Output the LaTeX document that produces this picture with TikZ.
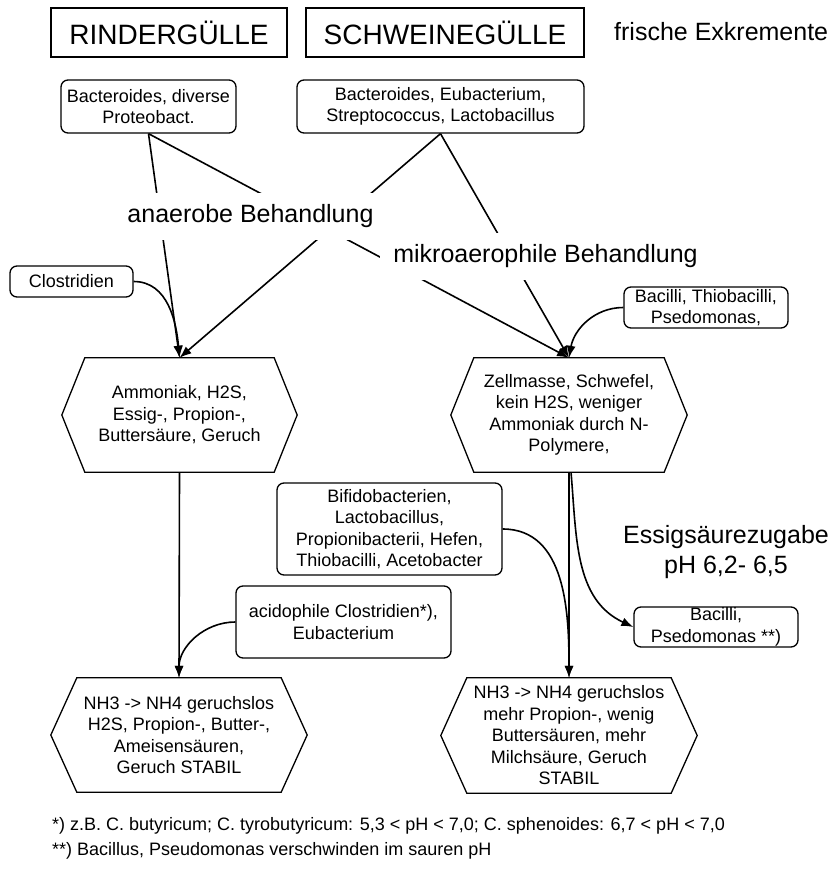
\documentclass[tikz,border=0pt]{standalone}
\usepackage{fontspec}
\setmainfont{Liberation Sans}
\usepackage{tikz}
\usetikzlibrary{arrows.meta}
\tikzset{>={Latex[length=12pt,width=9pt]}}
\tikzstyle{titel}=[draw,line width=1.3pt,minimum height=49pt,inner sep=0pt,font=\fontsize{28}{32}\selectfont]
\tikzstyle{keim}=[draw,rounded corners=7pt,line width=1.3pt,align=center,inner sep=0pt,font=\fontsize{18}{21.5}\selectfont]
\tikzstyle{hexa}=[minimum height=114pt,align=center,inner sep=0pt,font=\fontsize{18}{21.5}\selectfont]
\tikzstyle{behandlung}=[fill=white,inner xsep=13pt,inner ysep=0pt,minimum height=47pt,font=\fontsize{25}{30}\selectfont]
\tikzstyle{pfeil}=[->,line width=1.6pt]
\newcommand{\sechseck}[2]{\draw[line width=1.3pt] (#1.west) -- ([xshift=#2]#1.north west) -- ([xshift=-#2]#1.north east) -- (#1.east) -- ([xshift=-#2]#1.south east) -- ([xshift=#2]#1.south west) -- cycle;}

\begin{document}
\begin{tikzpicture}[x=1pt,y=1pt]
    \useasboundingbox (0,0) rectangle (831,-875);

    \node[titel,minimum width=236pt] (rind) at (169,-32.5) {RINDERGÜLLE};
    \node[titel,minimum width=278pt] (schw) at (445,-32.5) {SCHWEINEGÜLLE};
    \node[anchor=west,inner sep=0pt,font=\fontsize{25}{30}\selectfont] (frisch) at (614,-32) {frische Exkremente};

    \node[keim,minimum width=175pt,minimum height=53pt] (bakt1) at (148.5,-106.5) {Bacteroides, diverse\\Proteobact.};
    \node[keim,minimum width=287pt,minimum height=53pt] (bakt2) at (440.5,-106.5) {Bacteroides, Eubacterium,\\Streptococcus, Lactobacillus};
    \node[keim,minimum width=123pt,minimum height=31pt] (clost) at (71.5,-281.5) {Clostridien};
    \node[keim,minimum width=164pt,minimum height=41pt] (bacthio) at (706,-307.5) {Bacilli, Thiobacilli,\\Psedomonas,};

    \node[hexa,minimum width=235pt] (hex1) at (179.5,-415) {Ammoniak, H2S,\\Essig-, Propion-,\\Buttersäure, Geruch};
    \node[hexa,minimum width=236pt] (hex2) at (569,-415) {Zellmasse, Schwefel,\\kein H2S, weniger\\Ammoniak durch N-\\Polymere,};
    \sechseck{hex1}{23pt}
    \sechseck{hex2}{23pt}

    \node[keim,minimum width=225pt,minimum height=92pt] (bifido) at (389.5,-529) {Bifidobacterien,\\Lactobacillus,\\Propionibacterii, Hefen,\\Thiobacilli, Acetobacter};
    \node[keim,minimum width=215pt,minimum height=72pt] (acido) at (343.5,-622) {acidophile Clostridien*),\\Eubacterium};
    \node[keim,minimum width=164pt,minimum height=40pt] (psedo) at (716,-627) {Bacilli,\\Psedomonas **)};
    \node[align=center,font=\fontsize{25}{30}\selectfont] (essig) at (726,-552) {Essigsäurezugabe\\pH 6,2- 6,5};

    \node[hexa,minimum width=256pt] (hex3) at (179,-735) {NH3 -> NH4 geruchslos\\H2S, Propion-, Butter-,\\Ameisensäuren,\\Geruch STABIL};
    \node[hexa,minimum width=256pt,minimum height=115pt] (hex4) at (569,-735.5) {NH3 -> NH4 geruchslos\\mehr Propion-, wenig\\Buttersäuren, mehr\\Milchsäure, Geruch\\STABIL};
    \sechseck{hex3}{26pt}
    \sechseck{hex4}{26pt}

    \draw[pfeil] (bakt1.south) -- (hex1.north);
    \draw[pfeil] (bakt1.south) -- (hex2.north);
    \draw[pfeil] (bakt2.south) -- (hex1.north);
    \draw[pfeil] (bakt2.south) -- (hex2.north);
    \draw[pfeil] (clost.east) to[out=0,in=95] (hex1.north);
    \draw[pfeil] (bacthio.west) to[out=180,in=80] (hex2.north);

    \draw[pfeil] (hex1.south) -- (hex3.north);
    \draw[pfeil] (hex2.south) -- (hex4.north);
    \draw[pfeil] (acido.west) to[out=180,in=90] (hex3.north);
    \draw[pfeil] (bifido.east) to[out=0,in=90] (hex4.north);
    \draw[pfeil] ([xshift=2pt]hex2.south) to[out=-85,in=155] (psedo.west);

    \node[behandlung] (anaerob) at (250.5,-216.5) {anaerobe Behandlung};
    \node[behandlung] (mikro) at (545.5,-256.5) {mikroaerophile Behandlung};

    \node[anchor=west,inner sep=0pt,font=\fontsize{18}{21}\selectfont] (fn1) at (52,-826) {*) z.B. C. butyricum; C. tyrobutyricum: 5,3 < pH < 7,0; C. sphenoides: 6,7 < pH < 7,0};
    \node[anchor=west,inner sep=0pt,font=\fontsize{18}{21}\selectfont] (fn2) at (52,-851) {**) Bacillus, Pseudomonas verschwinden im sauren pH};
\end{tikzpicture}
\end{document}
